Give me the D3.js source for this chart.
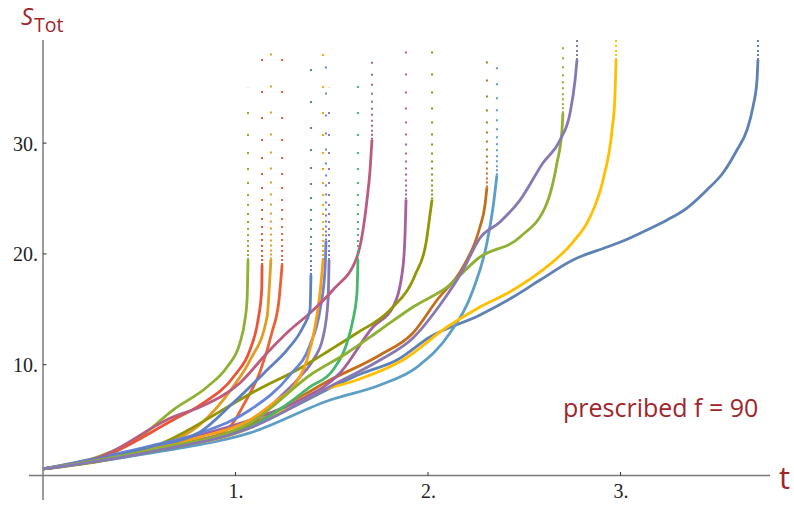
<!DOCTYPE html>
<html><head><meta charset="utf-8">
<script src="https://cdn.jsdelivr.net/npm/d3@7/dist/d3.min.js"></script>
<style>body{margin:0;background:#fff}svg{display:block}</style>
</head><body><svg id="chart" width="794" height="506"></svg>
<script>
// ---- data: each run is a list of [t, S_Tot] samples ----
const runBlueLong = [[0,0.59],[0.556,2.3],[1.075,4.47],[1.662,9.25],[1.839,10.42],[2.01,12.5],[2.27,14.49],[2.442,16.11],[2.582,17.64],[2.753,19.45],[2.93,20.62],[3.013,21.16],[3.138,22.16],[3.242,23.06],[3.345,24.14],[3.449,25.77],[3.532,27.3],[3.605,29.38],[3.657,31.18],[3.688,33.26],[3.709,35.69],[3.714,37.5]];
const runOrangeA = [[0,0.59],[0.296,1.5],[0.556,2.5],[0.816,4.6],[0.987,8.0],[1.075,10.4],[1.164,14.3],[1.179,18.0],[1.184,19.5]];
const runGreenA = [[0,0.59],[0.296,1.76],[0.504,3.47],[0.675,5.91],[0.852,7.99],[0.956,9.79],[1.023,11.96],[1.049,14.03],[1.06,15.84],[1.065,19.45]];
const runRedA = [[0,0.59],[0.556,2.2],[0.816,3.1],[0.971,4.4],[1.049,6.6],[1.127,9.34],[1.19,12.95],[1.226,15.84],[1.242,19.0]];
const runPurpleA = [[0,0.59],[0.556,2.3],[0.816,3.2],[1.075,4.56],[1.231,7.08],[1.335,8.9],[1.403,10.42],[1.455,12.5],[1.481,15.84],[1.486,19.45]];
const runBrown = [[0,0.59],[0.556,2.3],[1.075,4.56],[1.491,8.62],[1.751,10.88],[1.922,12.86],[2.047,15.84],[2.182,18.82],[2.27,22.43],[2.296,24.4],[2.306,26.0]];
const runLightBlue = [[0,0.59],[0.556,2.03],[1.075,3.84],[1.491,6.81],[1.751,8.17],[1.943,9.79],[2.114,12.86],[2.234,16.74],[2.306,20.98],[2.338,24.23],[2.358,27.1]];
const runYellow = [[0,0.59],[0.556,2.21],[1.075,4.29],[1.403,7.45],[1.631,8.62],[1.87,10.42],[2.099,13.4],[2.27,15.21],[2.442,16.74],[2.582,18.37],[2.753,21.07],[2.842,23.33],[2.909,26.67],[2.956,31.18],[2.971,34.16],[2.977,37.5]];
const runMauve = [[0,0.59],[0.556,2.57],[1.075,5.01],[1.335,6.81],[1.543,9.25],[1.714,13.4],[1.818,15.2],[1.87,18.82],[1.881,21.9],[1.886,24.9]];
const runOlive = [[0,0.59],[0.556,2.48],[1.143,7.99],[1.319,9.52],[1.491,11.33],[1.631,12.86],[1.803,14.94],[1.933,18.1],[1.99,21.0],[2.01,23.5],[2.021,24.9]];
const runRedB = [[0,0.59],[0.296,1.58],[0.675,5.01],[0.816,6.36],[0.997,9.07],[1.075,11.33],[1.117,14.03],[1.136,16.74],[1.138,19.0]];
const runBlueB = [[0,0.59],[0.556,2.66],[0.816,3.84],[1.075,5.91],[1.283,9.07],[1.387,11.78],[1.439,14.94],[1.465,18.55],[1.47,21.2]];
const runOrangeB = [[0,0.59],[0.556,2.39],[0.816,3.47],[1.075,5.01],[1.216,6.81],[1.299,7.99],[1.371,10.42],[1.413,13.4],[1.439,16.47],[1.455,19.45]];
const runPink = [[0,0.59],[0.296,1.67],[0.675,5.28],[0.816,6.18],[1.023,8.35],[1.164,11.06],[1.283,13.13],[1.387,14.67],[1.506,16.74],[1.631,19.72],[1.683,24.86],[1.699,27.57],[1.709,30.3]];
const runGreenB = [[0,0.59],[0.556,2.12],[0.816,3.02],[1.075,4.38],[1.247,6.18],[1.387,7.99],[1.506,9.52],[1.579,11.96],[1.61,14.03],[1.631,16.47],[1.636,19.45]];
const runBlueC = [[0,0.59],[0.556,2.57],[0.816,3.93],[0.987,6.54],[1.164,9.52],[1.268,11.33],[1.351,13.4],[1.387,14.94],[1.392,18.1]];
const runGreenC = [[0,0.59],[0.556,2.3],[1.075,4.74],[1.403,9.25],[1.579,11.06],[1.751,13.13],[1.922,15.21],[2.099,17.01],[2.27,19.72],[2.478,21.53],[2.618,24.59],[2.67,28.2],[2.696,31.18],[2.701,32.7]];
const runPurpleB = [[0,0.59],[0.556,2.12],[1.075,4.29],[1.506,8.17],[1.751,10.42],[1.922,12.41],[2.062,15.39],[2.182,18.55],[2.27,21.44],[2.374,22.88],[2.478,24.86],[2.597,28.2],[2.686,30.28],[2.738,32.72],[2.764,35.69],[2.774,37.5]];

const runs = [runBlueLong, runOrangeA, runGreenA, runRedA, runPurpleA, runBrown, runLightBlue, runYellow, runMauve, runOlive, runRedB, runBlueB, runOrangeB, runPink, runGreenB, runBlueC, runGreenC, runPurpleB];
// highest S reached by the sparse points above each blow-up
const blowupTop = [39.3, 38.8, 35.0, 38.7, 35.0, 37.7, 37.8, 39.3, 39.4, 38.6, 37.7, 38.9, 38.7, 37.9, 35.7, 38.2, 39.1, 39.3];

const xTickValues = [1, 2, 3];
const yTickValues = [10, 20, 30];
const xTickLabels = ["1.", "2.", "3."];
const yTickLabels = ["10.", "20.", "30."];
const annotation = "prescribed f = 90";

// ---- styles ----
const runColors = ["#5E81B5","#E19C24","#8FB032","#EB6235","#8778B3","#C56E1A","#5D9EC7","#FFBF00","#A5609D","#929600","#E95536","#6685D9","#F89F13","#BC5B80","#47B66D","#5E7FC2","#8FB032","#8778B3"];
const labelRed = "#a0252a";
const sparseDots = "2,2,2,2,2,3,2,3,2,4,2,4,2,5,2,6,2,7,2,8,2,10,2,12,2,14,2,16,2,20,2,24,2,30,2,40";

const svg = d3.select("#chart");
const x = d3.scaleLinear().domain([0, 3.9]).range([43, 43 + 3.9 * 192.5]);
const y = d3.scaleLinear().domain([0, 39.3]).range([475.5, 475.5 - 39.3 * 11.08]);

// axes
const axisColor = "#7a7a7a";
const gx = svg.append("g").attr("transform", `translate(0,${y(0)})`)
  .call(d3.axisBottom(x).tickValues(xTickValues).tickSize(0).tickFormat((d,i)=>xTickLabels[i]));
gx.select(".domain").remove();
gx.selectAll("text").attr("dy", null).attr("y", 22)
  .style("font-family","'Liberation Serif', serif").style("font-size","20px").attr("fill","#222");
svg.append("line").attr("x1", x(-0.073)).attr("x2", x(3.777)).attr("y1", y(0)).attr("y2", y(0))
  .attr("stroke", axisColor).attr("stroke-width", 1.5);
svg.selectAll(".xt").data(xTickValues).enter().append("line")
  .attr("x1", d=>x(d)).attr("x2", d=>x(d)).attr("y1", y(0)).attr("y2", y(0)-3.5)
  .attr("stroke", "#333").attr("stroke-width", 1);

const gy = svg.append("g").attr("transform", `translate(${x(0)},0)`)
  .call(d3.axisLeft(y).tickValues(yTickValues).tickSize(0).tickFormat((d,i)=>yTickLabels[i]));
gy.select(".domain").remove();
gy.selectAll("text").attr("x", -5).attr("dy", "0.35em")
  .style("font-family","'Liberation Serif', serif").style("font-size","20px").attr("fill","#222");
svg.append("line").attr("x1", x(0)).attr("x2", x(0)).attr("y1", y(39.3)).attr("y2", y(-2.2))
  .attr("stroke", axisColor).attr("stroke-width", 1.5);
svg.selectAll(".yt").data(yTickValues).enter().append("line")
  .attr("x1", x(0)).attr("x2", x(0)+3.5).attr("y1", d=>y(d)).attr("y2", d=>y(d))
  .attr("stroke", "#333").attr("stroke-width", 1);

// runs
const line = d3.line().x(d=>x(d[0])).y(d=>y(d[1])).curve(d3.curveMonotoneX);
const gRuns = svg.append("g");
runs.forEach((run, i) => {
  const last = run[run.length - 1];
  gRuns.append("line")
    .attr("x1", x(last[0])).attr("x2", x(last[0]))
    .attr("y1", y(last[1])).attr("y2", y(blowupTop[i]))
    .attr("stroke", runColors[i]).attr("stroke-width", 2)
    .attr("stroke-dasharray", sparseDots);
  gRuns.append("path").datum(run).attr("d", line)
    .attr("fill", "none").attr("stroke", runColors[i])
    .attr("stroke-width", 2.8).attr("stroke-linejoin","round");
});

// labels
const yl = svg.append("text").attr("x", 21).attr("y", 25).attr("fill", labelRed)
  .style("font-family","'Open Sans', sans-serif");
yl.append("tspan").text("S").style("font-style","italic").style("font-size","24px");
yl.append("tspan").text("Tot").attr("dx", 1).attr("dy", 7).style("font-size","19.5px");

svg.append("text").attr("x", 779).attr("y", 489).attr("fill", labelRed)
  .style("font-family","'Open Sans', sans-serif").style("font-size","31px").text("t");

svg.append("text").attr("x", 563).attr("y", 417).attr("fill", labelRed)
  .style("font-family","'Open Sans', sans-serif").style("font-size","25px").text(annotation);
</script>
</body></html>
